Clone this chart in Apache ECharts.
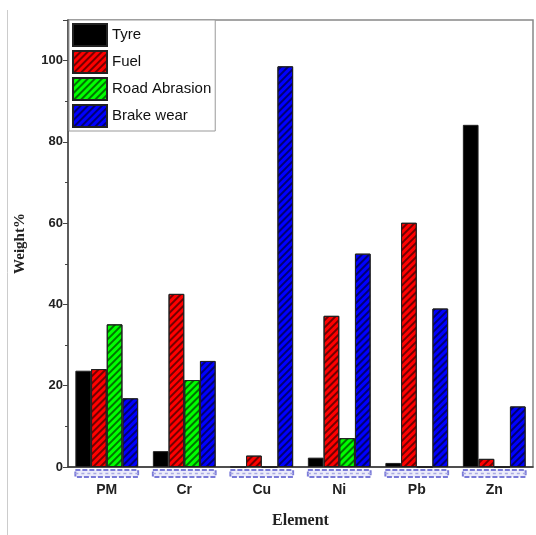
<!DOCTYPE html>
<html><head><meta charset="utf-8">
<script src="https://cdn.jsdelivr.net/npm/echarts@6/dist/echarts.min.js"></script>
<style>html,body{margin:0;padding:0;background:#fff}#c{width:536px;height:535px}</style>
</head><body><div id="c"></div>
<script>
const categories = ['PM', 'Cr', 'Cu', 'Ni', 'Pb', 'Zn'];
const tyre = [23.7, 3.9, 0, 2.3, 1.0, 84.2];
const fuel = [24.1, 42.6, 2.8, 37.2, 60.1, 2.0];
const roadAbrasion = [35.1, 21.4, 0, 7.1, 0, 0];
const brakeWear = [16.9, 26.1, 98.6, 52.5, 39.0, 14.9];
const seriesNames = ['Tyre', 'Fuel', 'Road Abrasion', 'Brake wear'];

function mk(name, data, color, hatched){
  const itemStyle = {color, borderColor:'#222', borderWidth:1};
  if (hatched) itemStyle.decal = {symbol:'rect', symbolSize:1, dashArrayX:[1,0], dashArrayY:[1.2,2.8], rotation:-Math.PI/4, color:'rgba(0,0,0,0.55)'};
  return {name, type:'bar', data, barGap:'0%', barCategoryGap:'19%', itemStyle, z:3};
}
const chart = echarts.init(document.getElementById('c'), null, {renderer:'canvas'});
chart.setOption({
  animation:false,
  backgroundColor:'#fff',
  graphic:[{type:'line', shape:{x1:7.5,y1:10,x2:7.5,y2:535}, style:{stroke:'#ccc', lineWidth:1}}],
  grid:{left:68, right:3, top:20, bottom:68, show:true, borderColor:'#888', borderWidth:1.5},
  legend:{orient:'vertical', left:69, top:20, itemWidth:34, itemHeight:22, itemGap:3,
    padding:[3,4,3,3], borderColor:'#999', borderWidth:1, backgroundColor:'#fff',
    icon:'rect', textStyle:{fontFamily:'Liberation Sans, Arial', fontSize:15, color:'#111'},
    data:seriesNames},
  xAxis:{type:'category', data:categories, name:'Element', nameLocation:'middle', nameGap:46,
    nameTextStyle:{fontFamily:'Liberation Serif, Times New Roman', fontWeight:'bold', fontSize:16, color:'#222'},
    axisLine:{lineStyle:{color:'#333', width:1.5}}, axisTick:{show:false},
    axisLabel:{fontFamily:'Liberation Sans, Arial', fontWeight:'bold', fontSize:14, color:'#222', margin:16}},
  yAxis:{type:'value', min:0, max:110, interval:20, name:'Weight%', nameLocation:'middle', nameGap:40,
    nameTextStyle:{fontFamily:'Liberation Serif, Times New Roman', fontWeight:'bold', fontSize:15, color:'#222'},
    axisLine:{show:true, lineStyle:{color:'#444', width:1.5}},
    axisTick:{show:true, length:5, lineStyle:{color:'#444'}},
    minorTick:{show:true, splitNumber:2, length:3, lineStyle:{color:'#444'}},
    splitLine:{show:false},
    axisLabel:{fontFamily:'Liberation Sans, Arial', fontWeight:'bold', fontSize:13, color:'#222', margin:5, showMaxLabel:false}},
  series:[
    mk('Tyre', tyre, '#000000', false),
    mk('Fuel', fuel, '#ff0000', true),
    mk('Road Abrasion', roadAbrasion, '#00ff00', true),
    mk('Brake wear', brakeWear, '#0000ff', true),
    {type:'custom', name:'ghost', silent:true, clip:false, z:1,
      data:categories.map((c,i)=>[i,0]),
      renderItem:function(params, api){
        const p = api.coord([api.value(0), 0]);
        const w = api.size([1,0])[0]*0.81;
        return {type:'group', children:[
          {type:'rect', shape:{x:p[0]-w/2, y:p[1]+3, width:w, height:7},
            style:{fill:'rgba(150,150,230,0.18)', stroke:'#7a7ad8', lineWidth:2, lineDash:[5,2]}},
          {type:'line', shape:{x1:p[0]-w/2, y1:p[1]+6.5, x2:p[0]+w/2, y2:p[1]+6.5},
            style:{stroke:'#a8a8e4', lineWidth:1.5, lineDash:[3,3]}}
        ]};
      }}
  ]
});
</script></body></html>
